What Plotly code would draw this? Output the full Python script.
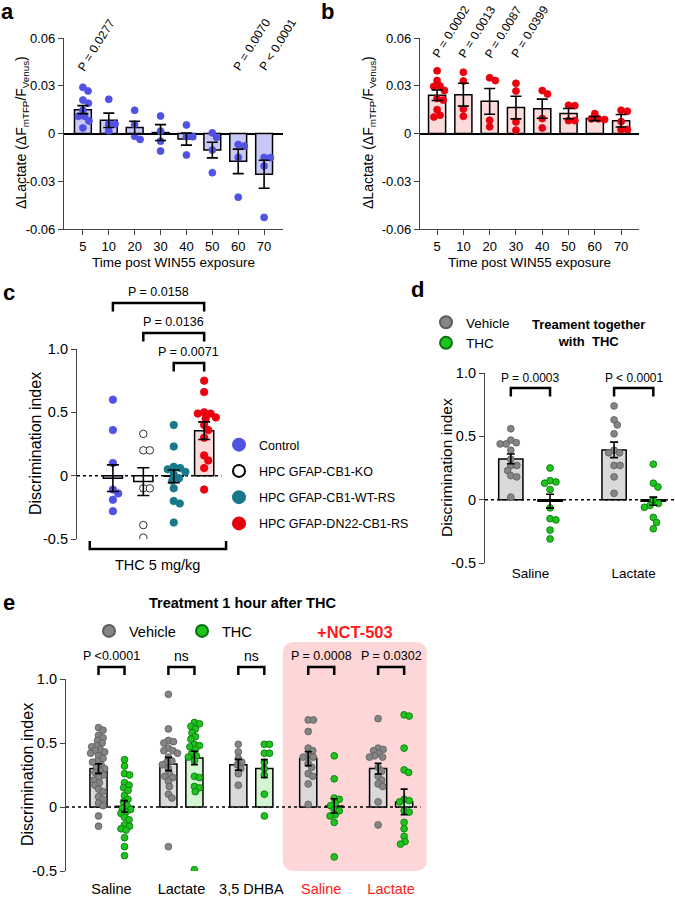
import plotly.graph_objects as go

W, H = 675, 897
FONT = "Liberation Sans, Arial, Helvetica, sans-serif"

# ---------------- data ----------------
times = ["5", "10", "20", "30", "40", "50", "60", "70"]

a_points = [
    [0.029, 0.0267, 0.021, 0.019, 0.0146, 0.0108, 0.0108, 0.0079, 0.0035],
    [0.0215, 0.006, 0.006, 0.0017],
    [0.0146, 0.0058, -0.0017, -0.0037],
    [0.011, 0.0015, -0.0048, -0.011],
    [0.0054, -0.002, -0.002, -0.0135],
    [0.0004, -0.0025, -0.0104, -0.0246],
    [-0.0069, -0.0079, -0.015, -0.040],
    [-0.015, -0.0152, -0.0204, -0.0527],
]
a_mean = [0.015, 0.0083, 0.0037, 0.0006, -0.0035, -0.0104, -0.0175, -0.0256]
a_sem = [0.0025, 0.0045, 0.004, 0.005, 0.0038, 0.0049, 0.0077, 0.0088]
a_pvals = {0: "P = 0.0277", 6: "P = 0.0070", 7: "P < 0.0001"}

b_points = [
    [0.0394, 0.0333, 0.0298, 0.0296, 0.027, 0.022, 0.021, 0.015, 0.0115, 0.0104],
    [0.0385, 0.033, 0.0154, 0.0108],
    [0.035, 0.0333, 0.0083, 0.0042],
    [0.0315, 0.0267, 0.0073, 0.0021],
    [0.027, 0.0248, 0.0094, 0.0035],
    [0.0177, 0.0175, 0.0081, 0.0081],
    [0.0125, 0.0092, 0.0092, 0.0088],
    [0.0146, 0.014, 0.0075, 0.0025, 0.0025],
]
b_mean = [0.024, 0.0244, 0.0202, 0.0163, 0.0156, 0.0125, 0.0094, 0.008]
b_sem = [0.0033, 0.0072, 0.0081, 0.0071, 0.006, 0.0032, 0.0013, 0.0039]
b_pvals = {0: "P = 0.0002", 1: "P = 0.0013", 2: "P = 0.0087", 3: "P = 0.0399"}

c_groups = ["Control", "HPC GFAP-CB1-KO", "HPC GFAP-CB1-WT-RS", "HPC GFAP-DN22-CB1-RS"]
c_points = [
    [0.60, 0.36, 0.10, -0.11, -0.14, -0.19, -0.28],
    [0.33, 0.20, 0.20, -0.10, -0.10, -0.39, -0.49],
    [0.40, 0.23, 0.07, 0.06, 0.05, 0.03, 0.01, -0.02, -0.04, -0.10, -0.20, -0.22, -0.37],
    [0.75, 0.66, 0.50, 0.49, 0.49, 0.46, 0.45, 0.40, 0.36, 0.30, 0.16, 0.12, 0.06, -0.11],
]
c_mean = [-0.02, -0.047, -0.005, 0.355]
c_sem = [0.105, 0.11, 0.05, 0.07]
c_compare = [(0, 3, "P = 0.0158"), (1, 3, "P = 0.0136"), (2, 3, "P = 0.0071")]

d_groups = ["Saline", "Lactate"]
d_veh_points = [
    [0.56, 0.47, 0.45, 0.44, 0.44, 0.39, 0.32, 0.27, 0.27, 0.23, 0.19, 0.18, 0.02],
    [0.74, 0.63, 0.59, 0.52, 0.39, 0.37, 0.37, 0.27, 0.27, 0.18, 0.05],
]
d_thc_points = [
    [0.25, 0.15, 0.14, 0.13, 0.08, -0.065, -0.15, -0.16, -0.24, -0.31],
    [0.28, 0.13, 0.10, -0.005, -0.03, -0.045, -0.06, -0.14, -0.18, -0.23],
]
d_veh_mean = [0.322, 0.393]
d_veh_sem = [0.039, 0.061]
d_thc_mean = [-0.012, -0.012]
d_thc_sem = [0.055, 0.032]
d_pvals = ["P = 0.0003", "P < 0.0001"]

e_groups = ["Saline", "Lactate", "3,5 DHBA", "Saline", "Lactate"]
e_nct = [False, False, False, True, True]
e_veh_points = [
    [0.62, 0.60, 0.56, 0.54, 0.52, 0.50, 0.48, 0.47, 0.45, 0.44, 0.43, 0.42, 0.40, 0.38, 0.36, 0.35, 0.33,
     0.31, 0.30, 0.28, 0.27, 0.25, 0.23, 0.21, 0.19, 0.17, 0.14, 0.12, 0.08, 0.06, 0.03, 0.01, -0.07, -0.15],
    [0.88, 0.61, 0.52, 0.51, 0.50, 0.46, 0.44, 0.44, 0.42, 0.39, 0.36, 0.35, 0.33, 0.30, 0.26, 0.24, 0.23,
     0.20, 0.16, 0.10, 0.07, -0.31],
    [0.49, 0.43, 0.38, 0.35, 0.33, 0.30, 0.26, 0.17],
    [0.68, 0.68, 0.59, 0.46, 0.44, 0.40, 0.39, 0.39, 0.34, 0.31, 0.26, 0.24, 0.18, 0.02],
    [0.69, 0.46, 0.45, 0.44, 0.42, 0.40, 0.39, 0.39, 0.31, 0.28, 0.24, 0.21, 0.18, 0.16, 0.04, -0.14],
]
e_thc_points = [
    [0.37, 0.32, 0.26, 0.25, 0.19, 0.17, 0.15, 0.13, 0.09, 0.06, 0.04, 0.01, -0.01, -0.02, -0.04, -0.05,
     -0.08, -0.10, -0.14, -0.15, -0.17, -0.18, -0.24, -0.31, -0.38],
    [0.66, 0.65, 0.63, 0.61, 0.58, 0.55, 0.53, 0.49, 0.48, 0.47, 0.45, 0.42, 0.40, 0.39, 0.36, 0.24, 0.23,
     0.16, 0.15, 0.12, -0.49],
    [0.49, 0.49, 0.42, 0.42, 0.35, 0.30, 0.25, 0.10, -0.07],
    [0.40, 0.22, 0.07, 0.06, 0.03, 0.01, -0.02, -0.03, -0.06, -0.07, -0.12, -0.39],
    [0.72, 0.71, 0.46, 0.29, 0.27, 0.06, 0.05, 0.04, -0.03, -0.04, -0.12, -0.17, -0.23, -0.27, -0.29],
]
e_veh_mean = [0.30, 0.336, 0.33, 0.378, 0.30]
e_veh_sem = [0.037, 0.052, 0.042, 0.055, 0.042]
e_thc_mean = [0.005, 0.383, 0.30, 0.008, 0.04]
e_thc_sem = [0.045, 0.053, 0.07, 0.057, 0.10]
e_pvals = ["P <0.0001", "ns", "ns", "P = 0.0008", "P = 0.0302"]

# ---------------- layout geometry (pixels) ----------------
panels = {
    "a": dict(xa="x", ya="y", xdom=(64, 283), ydom=(38, 229), xr=(-0.73, 7.73), yr=(-0.06, 0.06)),
    "b": dict(xa="x2", ya="y2", xdom=(420, 639), ydom=(38, 229), xr=(-0.65, 7.68), yr=(-0.06, 0.06)),
    "c": dict(xa="x3", ya="y3", xdom=(77, 228.5), ydom=(349, 539), xr=(-1.18, 3.8), yr=(-0.5, 1.0)),
    "d": dict(xa="x4", ya="y4", xdom=(485, 675), ydom=(373, 563), xr=(-0.44, 1.40), yr=(-0.5, 1.0)),
    "e": dict(xa="x5", ya="y5", xdom=(66, 430), ydom=(679, 871), xr=(-0.651, 4.556), yr=(-0.5, 1.0)),
}


def PX(p):
    return p / W


def PY(p):
    return 1 - p / H


def scales(k):
    p = panels[k]
    xs = (p["xdom"][1] - p["xdom"][0]) / (p["xr"][1] - p["xr"][0])
    ys = (p["ydom"][1] - p["ydom"][0]) / (p["yr"][1] - p["yr"][0])
    return xs, ys


def swarm(vals, xs, ys, d):
    # simple beeswarm: offsets in x units so markers do not overlap too much
    placed, out = [], []
    for v in vals:
        y = v * ys
        blocked = []
        for px, pyy in placed:
            dy = abs(pyy - y)
            if dy < d:
                w = (d * d - dy * dy) ** 0.5
                blocked.append((px - w, px + w))
        cands = sorted([0.0] + [b for iv in blocked for b in iv], key=lambda c: (abs(c), c < 0))
        pick = 0.0
        for c in cands:
            if all(not (lo + 1e-6 < c < hi - 1e-6) for lo, hi in blocked):
                pick = c
                break
        placed.append((pick, y))
        out.append(pick / xs)
    return out


fig = go.Figure()


def add_series(k, centers, groups_vals, mean, sem, fill, pcol, pline, size, bw, cap, d,
               name=None, legend=None, lgroup=None):
    p = panels[k]
    xs, ys = scales(k)
    fig.add_trace(go.Bar(x=centers, y=mean, width=bw, marker=dict(color=fill, line=dict(color="black", width=1.5)),
                         xaxis=p["xa"], yaxis=p["ya"], showlegend=False, hoverinfo="skip"))
    px_, py_ = [], []
    for c, vals in zip(centers, groups_vals):
        offs = swarm(vals, xs, ys, d)
        px_ += [c + o for o in offs]
        py_ += vals
    fig.add_trace(go.Scatter(x=px_, y=py_, mode="markers", xaxis=p["xa"], yaxis=p["ya"],
                             marker=dict(size=size, color=pcol, line=dict(color=pline, width=0.8)),
                             name=name, showlegend=name is not None,
                             legend=legend, legendgroup=lgroup))
    fig.add_trace(go.Scatter(x=centers, y=mean, mode="markers", xaxis=p["xa"], yaxis=p["ya"],
                             marker=dict(size=1, opacity=0), showlegend=False, hoverinfo="skip",
                             error_y=dict(type="data", array=sem, color="black", thickness=1.6, width=cap)))


BLUE, BLUE_BAR = "#5052e3", "#c8c9f7"
RED, RED_BAR = "#e8000e", "#fbdada"
TEAL, TEAL_BAR = "#17798a", "#b9d4d9"
GREY, GREY_EDGE, GREY_BAR = "#858585", "#5c5c5c", "#d9d9d9"
GREEN, GREEN_EDGE, GREEN_BAR = "#1cc41c", "#0d6e0d", "#d3f5d3"

# panel a and b
idx = list(range(len(times)))
add_series("a", idx, a_points, a_mean, a_sem, BLUE_BAR, BLUE, BLUE, 7, 0.65, 5.5, 6.3)
add_series("b", idx, b_points, b_mean, b_sem, RED_BAR, RED, RED, 7, 0.65, 5.5, 6.3)

# panel c (one trace per group so each gets a legend entry)
c_fill = [BLUE_BAR, "white", TEAL_BAR, RED_BAR]
c_pcol = [BLUE, "white", TEAL, RED]
c_pline = [BLUE, "black", TEAL, RED]
for i, g in enumerate(c_groups):
    add_series("c", [i], [c_points[i]], [c_mean[i]], [c_sem[i]], c_fill[i], c_pcol[i], c_pline[i],
               7.5, 0.63, 6, 6.5, name=g, legend="legend", lgroup="c%d" % i)

# panel d
OFF_D = 0.19
d_idx = list(range(len(d_groups)))
add_series("d", [i - OFF_D for i in d_idx], d_veh_points, d_veh_mean, d_veh_sem, GREY_BAR, GREY, GREY_EDGE,
           6.8, 0.235, 4, 6.0, name="Vehicle", legend="legend2", lgroup="dv")
add_series("d", [i + OFF_D for i in d_idx], d_thc_points, d_thc_mean, d_thc_sem, GREEN_BAR, GREEN, GREEN_EDGE,
           6.8, 0.235, 4, 6.0, name="THC", legend="legend2", lgroup="dt")

# panel e
OFF_E = 0.186
e_idx = list(range(len(e_groups)))
add_series("e", [i - OFF_E for i in e_idx], e_veh_points, e_veh_mean, e_veh_sem, GREY_BAR, GREY, GREY_EDGE,
           6.8, 0.245, 3.5, 5.2, name="Vehicle", legend="legend3", lgroup="ev")
add_series("e", [i + OFF_E for i in e_idx], e_thc_points, e_thc_mean, e_thc_sem, GREEN_BAR, GREEN, GREEN_EDGE,
           6.8, 0.245, 3.5, 5.2, name="THC", legend="legend3", lgroup="et")

# ---------------- axes ----------------
AX = dict(showgrid=False, automargin=False, linecolor="#444", linewidth=1.2, tickcolor="#444", tickwidth=1.2,
          ticklen=5, ticks="outside", tickfont=dict(size=13, color="black", family=FONT))
lay = {}
num = {"a": "", "b": "2", "c": "3", "d": "4", "e": "5"}
for k, p in panels.items():
    n = num[k]
    ya = dict(AX, domain=[PY(p["ydom"][1]), PY(p["ydom"][0])], range=list(p["yr"]), anchor=p["xa"],
              showline=True, zeroline=False)
    xa = dict(AX, domain=[PX(p["xdom"][0]), PX(p["xdom"][1])], range=list(p["xr"]), anchor=p["ya"],
              zeroline=False)
    if k in ("a", "b"):
        ya.update(tickvals=[-0.06, -0.03, 0, 0.03, 0.06], ticktext=["-0.06", "-0.03", "0", "0.03", "0.06"],
                  zeroline=True, zerolinecolor="black", zerolinewidth=1.5)
        xa.update(showline=True, tickvals=idx, ticktext=times)
    else:
        ya.update(tickvals=[-0.5, 0, 0.5, 1.0], ticktext=["-0.5", "0", "0.5", "1.0"],
                  tickfont=dict(size=14.5, color="black", family=FONT))
        xa.update(showline=False, ticks="")
        if k == "c":
            xa.update(showticklabels=False)
        elif k == "d":
            xa.update(tickvals=d_idx, ticktext=d_groups, tickfont=dict(size=13.5, color="black", family=FONT))
        else:
            xa.update(tickvals=e_idx, ticklabelstandoff=7,
                      ticktext=['<span style="color:#ff1a1a">%s</span>' % g if r else g
                                for g, r in zip(e_groups, e_nct)],
                      tickfont=dict(size=14.5, color="black", family=FONT))
    lay["xaxis" + n] = xa
    lay["yaxis" + n] = ya

fig.update_layout(**lay)

# ---------------- shapes ----------------
shapes = []
# pink NCT-503 box (rounded), x in data units of panel e, y in paper
ex0, ex1 = 2.45, 4.51
ey0, ey1 = PY(871), PY(642)
rx, ry = 0.17, 12 / H
shapes.append(dict(type="path", xref="x5", yref="paper", layer="below", fillcolor="#fdd7d7", line=dict(width=0),
                   path=f"M {ex0+rx} {ey0} L {ex1-rx} {ey0} Q {ex1} {ey0} {ex1} {ey0+ry} L {ex1} {ey1-ry} "
                        f"Q {ex1} {ey1} {ex1-rx} {ey1} L {ex0+rx} {ey1} Q {ex0} {ey1} {ex0} {ey1-ry} "
                        f"L {ex0} {ey0+ry} Q {ex0} {ey0} {ex0+rx} {ey0} Z"))
# dotted zero lines
for k, xend in (("c", 3.57), ("d", 1.40), ("e", 4.42)):
    p = panels[k]
    shapes.append(dict(type="line", xref=p["xa"], yref=p["ya"], x0=p["xr"][0], x1=xend, y0=0, y1=0,
                       layer="below", line=dict(color="black", width=1.5, dash="dot")))


def bracket(xref, x0, x1, ytop, ybot, width=2.5):
    shapes.append(dict(type="path", xref=xref, yref="paper", line=dict(color="black", width=width),
                       path=f"M {x0} {PY(ybot)} L {x0} {PY(ytop)} L {x1} {PY(ytop)} L {x1} {PY(ybot)}"))


anns = []


def text(t, x, y, xref="paper", size=13, color="black", bold=False, angle=0, xanchor="center"):
    if bold:
        t = "<b>%s</b>" % t
    anns.append(dict(text=t, x=x, y=PY(y), xref=xref, yref="paper", showarrow=False, textangle=angle,
                     xanchor=xanchor, yanchor="middle", font=dict(size=size, color=color, family=FONT)))


# c brackets
for (g0, g1, lab), yt in zip(c_compare, (303, 333, 363)):
    bracket("x3", g0, g1, yt, yt + 8.5)
    text(lab, (g0 + g1) / 2, yt - 11, "x3", 12.5)
bracket("x3", -0.76, 3.72, 549, 541)
text("THC 5 mg/kg", 1.48, 565, "x3", 14.5)

# d brackets
for i, lab in enumerate(d_pvals):
    bracket("x4", i - OFF_D, i + OFF_D, 388, 396.5)
    text(lab, i, 378, "x4", 12)

# e brackets
for i, lab in enumerate(e_pvals):
    bracket("x5", i - OFF_E, i + OFF_E, 667, 675)
    text(lab, i, 656, "x5", 12.5 if lab != "ns" else 14)

# rotated p-values in a and b
for i, lab in a_pvals.items():
    text(lab, i + 0.52, 45, "x", 12, angle=-58)
for i, lab in b_pvals.items():
    text(lab, i + 0.52, 32, "x2", 12, angle=-58)

# axis titles
ylab = "\u0394Lactate (\u0394F<sub>mTFP</sub>/F<sub>Venus</sub>)"
text(ylab, PX(22), 133, size=14, angle=-90)
text(ylab, PX(369), 133, size=14, angle=-90)
text("Time post WIN55 exposure", PX(173.5), 263, size=13.5)
text("Time post WIN55 exposure", PX(529.5), 263, size=13.5)
text("Discrimination index", PX(35), 444, size=16, angle=-90)
text("Discrimination index", PX(446), 468, size=15.5, angle=-90)
text("Discrimination index", PX(27), 775, size=16, angle=-90)

# titles
text("Treament together<br>with  THC", PX(588), 333, size=13, bold=True)
text("Treatment 1 hour after THC", PX(242), 603, size=14.5, bold=True)
text("+NCT-503", PX(355), 632, size=16.5, bold=True, color="#ff1a1a")

# panel letters
for lab, x, y in (("a", 7, 11), ("b", 327, 11), ("c", 9, 292), ("d", 417, 290), ("e", 9, 602)):
    text(lab, PX(x), y, size=22, bold=True)

LEG = dict(bgcolor="rgba(0,0,0,0)", itemsizing="constant", xanchor="left", yanchor="top",
           borderwidth=0, traceorder="normal")
fig.update_layout(
    width=W, height=H, margin=dict(l=0, r=0, t=0, b=0, autoexpand=False),
    paper_bgcolor="white", plot_bgcolor="rgba(0,0,0,0)",
    font=dict(family=FONT, color="black"),
    barmode="overlay", shapes=shapes, annotations=anns,
    legend=dict(LEG, x=PX(219), y=PY(430), traceorder="grouped", tracegroupgap=7,
                font=dict(size=12.5, family=FONT)),
    legend2=dict(LEG, x=PX(426), y=PY(307), tracegroupgap=0, font=dict(size=13.5, family=FONT)),
    legend3=dict(LEG, x=PX(89), y=PY(615), orientation="h", entrywidth=48, entrywidthmode="pixels",
                 font=dict(size=14.5, family=FONT)),
)

# drop the default page margins so the 675x897 figure fills the window exactly
page_css = ("var s=document.documentElement.style, b=document.body.style;"
            "s.margin='0'; s.padding='0'; s.overflow='hidden';"
            "b.margin='0'; b.padding='0'; b.overflow='hidden';")
fig.write_html("out.html", config={"displayModeBar": False}, post_script=page_css)
